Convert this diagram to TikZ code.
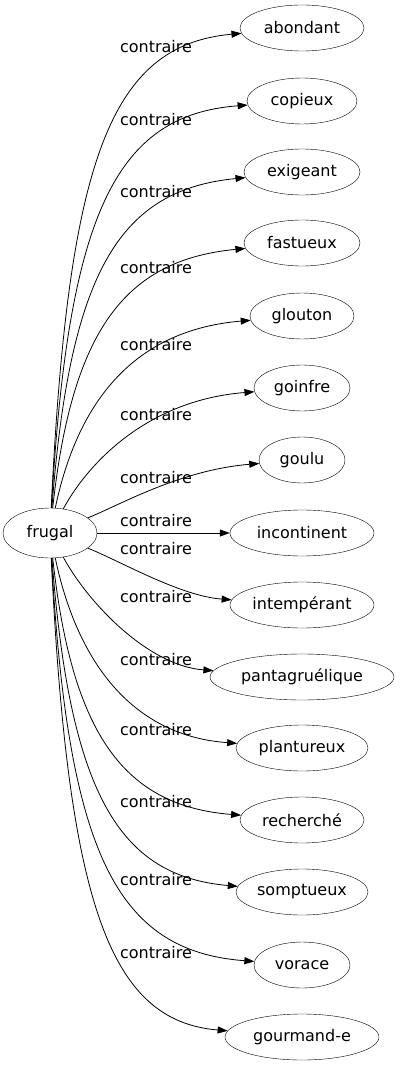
\documentclass[tikz,border=0pt]{standalone}
\usepackage{fontspec}
\setmainfont{DejaVu Sans}
\usetikzlibrary{shapes.geometric,arrows.meta}
\begin{document}
\begin{tikzpicture}[x=1pt,y=-1pt,
  word/.style={draw,ellipse,inner sep=0pt,minimum height=46pt,font=\fontsize{16}{18}\selectfont},
  lab/.style={inner sep=0pt,font=\fontsize{16}{18}\selectfont},
  rel/.style={-{Triangle[length=10pt,width=7pt]},line width=0.8pt}]
\useasboundingbox (0,0) rectangle (400,1067);
\node[word,minimum width=94pt,minimum height=50pt] (frugal) at (50,533) {frugal};
\node[word,minimum width=124pt] (abondant) at (302,28) {abondant};
\node[word,minimum width=110pt] (copieux) at (302,101) {copieux};
\node[word,minimum width=116pt] (exigeant) at (302,172) {exigeant};
\node[word,minimum width=116pt] (fastueux) at (302,243) {fastueux};
\node[word,minimum width=104pt] (glouton) at (302,316) {glouton};
\node[word,minimum width=96pt] (goinfre) at (302,388) {goinfre};
\node[word,minimum width=86pt] (goulu) at (302,460) {goulu};
\node[word,minimum width=144pt] (incontinent) at (302,533) {incontinent};
\node[word,minimum width=144pt] (intemperant) at (302,605) {intempérant};
\node[word,minimum width=184pt] (pantagruelique) at (302,677) {pantagruélique};
\node[word,minimum width=132pt] (plantureux) at (302,748) {plantureux};
\node[word,minimum width=124pt] (recherche) at (302,820) {recherché};
\node[word,minimum width=132pt] (somptueux) at (302,892) {somptueux};
\node[word,minimum width=96pt] (vorace) at (302,965) {vorace};
\node[word,minimum width=154pt] (gourmande) at (302,1037) {gourmand‑e};

\draw[rel] (frugal) .. controls (68,160) and (110,45) .. (abondant);
\draw[rel] (frugal) .. controls (68,215) and (115,115) .. (copieux);
\draw[rel] (frugal) .. controls (70,270) and (120,190) .. (exigeant);
\draw[rel] (frugal) .. controls (72,330) and (125,260) .. (fastueux);
\draw[rel] (frugal) .. controls (78,400) and (135,330) .. (glouton);
\draw[rel] (frugal) .. controls (90,460) and (150,400) .. (goinfre);
\draw[rel] (frugal) .. controls (120,505) and (180,470) .. (goulu);
\draw[rel] (frugal) -- (incontinent);
\draw[rel] (frugal) .. controls (120,561) and (180,596) .. (intemperant);
\draw[rel] (frugal) .. controls (90,606) and (150,666) .. (pantagruelique);
\draw[rel] (frugal) .. controls (78,666) and (135,736) .. (plantureux);
\draw[rel] (frugal) .. controls (72,736) and (125,806) .. (recherche);
\draw[rel] (frugal) .. controls (70,796) and (120,876) .. (somptueux);
\draw[rel] (frugal) .. controls (68,851) and (115,951) .. (vorace);
\draw[rel] (frugal) .. controls (68,906) and (110,1021) .. (gourmande);

\node[lab] (l1) at (156,47) {contraire};
\node[lab] (l2) at (156,120) {contraire};
\node[lab] (l3) at (156,192) {contraire};
\node[lab] (l4) at (156,268) {contraire};
\node[lab] (l5) at (156,345) {contraire};
\node[lab] (l6) at (156,415) {contraire};
\node[lab] (l7) at (156,478) {contraire};
\node[lab] (l8) at (156,521) {contraire};
\node[lab] (l9) at (156,549) {contraire};
\node[lab] (l10) at (156,597) {contraire};
\node[lab] (l11) at (156,660) {contraire};
\node[lab] (l12) at (156,730) {contraire};
\node[lab] (l13) at (156,802) {contraire};
\node[lab] (l14) at (156,880) {contraire};
\node[lab] (l15) at (156,953) {contraire};
\end{tikzpicture}
\end{document}
